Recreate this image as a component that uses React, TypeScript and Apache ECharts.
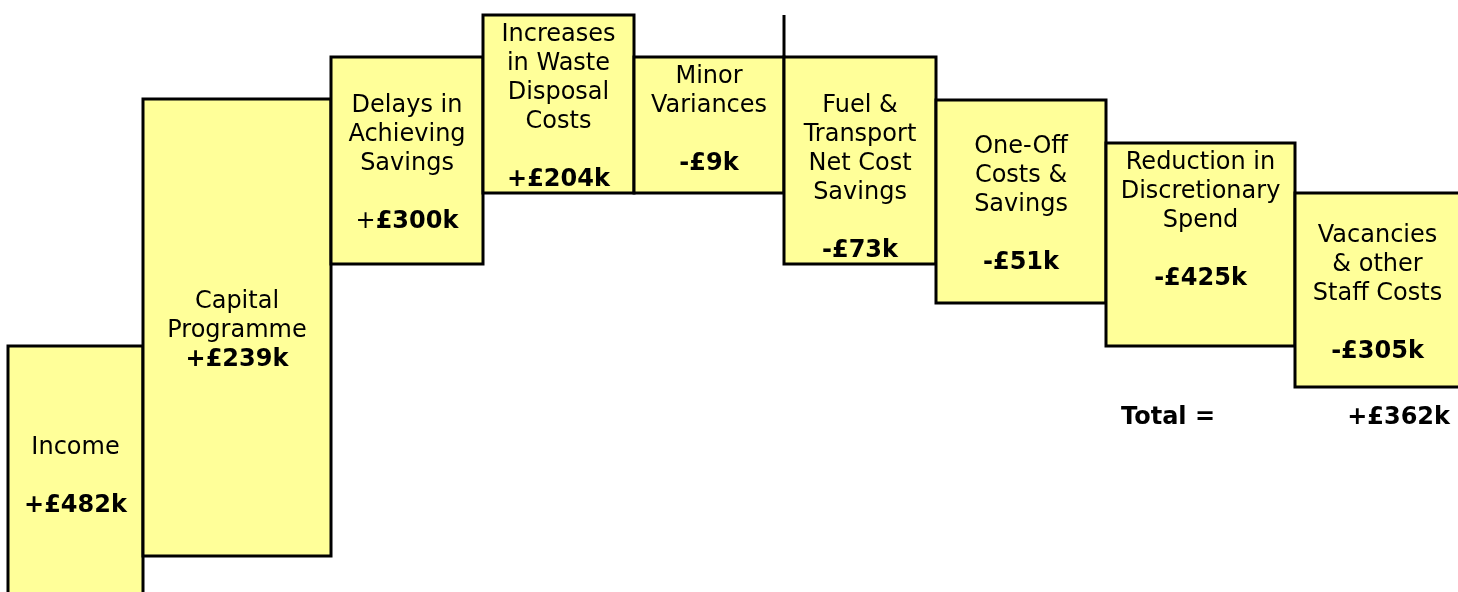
import { useEffect, useRef } from 'react';
import * as echarts from 'echarts';

// ---- data ----
const categories = [
  'Income',
  'Capital\nProgramme',
  'Delays in\nAchieving\nSavings',
  'Increases\nin Waste\nDisposal\nCosts',
  'Minor\nVariances',
  'Fuel &\nTransport\nNet Cost\nSavings',
  'One-Off\nCosts &\nSavings',
  'Reduction in\nDiscretionary\nSpend',
  'Vacancies\n& other\nStaff Costs',
];
const values = [482, 239, 300, 204, -9, -73, -51, -425, -305];
// box extents on the (inverted) level axis
const levelTop = [346, 99, 57, 15, 57, 57, 100, 143, 193];
const levelBottom = [600, 556, 264, 193, 193, 264, 303, 346, 387];
// relative column widths on the x axis
const colWidths = [135, 188, 152, 151, 150, 152, 170, 189, 165];

// ---- styles ----
const textAnchor = ['middle', 'middle', 'middle', 'top', 'top', 'bottom', 'middle', 'top', 'middle'];
const blankBeforeValue = [true, false, true, true, true, true, true, true, true];
const plainSign = [false, false, true, false, false, false, false, false, false];
const FONT = '"DejaVu Sans", Verdana, sans-serif';
const FS = 24;
const LH = 29;
const FILL = '#FFFF99';

const fmt = (v: number) => `${v >= 0 ? '+' : '-'}£${Math.abs(v)}k`;

export default function App() {
  const ref = useRef<HTMLDivElement>(null);
  useEffect(() => {
    if (!ref.current) return;
    const chart = echarts.init(ref.current, undefined, { renderer: 'svg' });
    const starts: number[] = [];
    let acc = 0;
    colWidths.forEach((w) => {
      starts.push(acc);
      acc += w;
    });
    const boxes = categories.map((_, i) => [starts[i], starts[i] + colWidths[i], levelTop[i], levelBottom[i], i]);
    const total = values.reduce((a, b) => a + b, 0);
    const divX = starts[5];
    const divTop = Math.min(...levelTop);

    chart.setOption({
      animation: false,
      grid: { left: 8, right: 0, top: 0, bottom: 0 },
      xAxis: { type: 'value', min: 0, max: 1450, show: false },
      yAxis: { type: 'value', min: 0, max: 592, inverse: true, show: false },
      series: [
        {
          type: 'custom',
          data: boxes,
          renderItem: (params: any, api: any) => {
            const x0 = api.value(0), x1 = api.value(1), t = api.value(2), b = api.value(3);
            const i = api.value(4) as number;
            const p0 = api.coord([x0, t]);
            const p1 = api.coord([x1, b]);
            const cx = (p0[0] + p1[0]) / 2;
            const anchor = textAnchor[i];
            let ty = (p0[1] + p1[1]) / 2 + 1.5;
            let va = 'middle';
            if (anchor === 'top') { ty = p0[1] + 3; va = 'top'; }
            if (anchor === 'bottom') { ty = p1[1] - 0.5; va = 'bottom'; }
            const v = values[i];
            const valText = plainSign[i]
              ? `{r|${v >= 0 ? '+' : '-'}}{b|£${Math.abs(v)}k}`
              : `{b|${fmt(v)}}`;
            const nameText = categories[i].split('\n').map((l) => `{r|${l}}`).join('\n');
            const text = nameText + (blankBeforeValue[i] ? '\n{r| }\n' : '\n') + valText;
            return {
              type: 'group',
              children: [
                {
                  type: 'rect',
                  shape: { x: p0[0], y: p0[1], width: p1[0] - p0[0], height: p1[1] - p0[1] },
                  style: { fill: FILL, stroke: '#000', lineWidth: 3 },
                },
                {
                  type: 'text',
                  x: cx,
                  y: ty,
                  style: {
                    text,
                    align: 'center',
                    verticalAlign: va,
                    fill: '#000',
                    fontFamily: FONT,
                    fontSize: FS,
                    lineHeight: LH,
                    rich: {
                      r: { fontFamily: FONT, fontSize: FS, lineHeight: LH, fill: '#000' },
                      b: { fontFamily: FONT, fontSize: FS, lineHeight: LH, fontWeight: 'bold', fill: '#000' },
                    },
                  },
                },
              ],
            };
          },
        },
        {
          type: 'line',
          data: [[divX, divTop], [divX, levelTop[5]]],
          symbol: 'none',
          lineStyle: { color: '#000', width: 3 },
          silent: true,
        },
      ],
      graphic: [
        {
          type: 'text',
          left: 1121,
          top: 404,
          style: { text: 'Total =', fontFamily: FONT, fontSize: FS, fontWeight: 'bold', fill: '#000' },
        },
        {
          type: 'text',
          right: 8,
          top: 404,
          style: { text: fmt(total), fontFamily: FONT, fontSize: FS, fontWeight: 'bold', fill: '#000' },
        },
      ],
    });
    return () => chart.dispose();
  }, []);
  return <div ref={ref} style={{ position: 'fixed', left: 0, top: 0, width: 1458, height: 592 }} />;
}
